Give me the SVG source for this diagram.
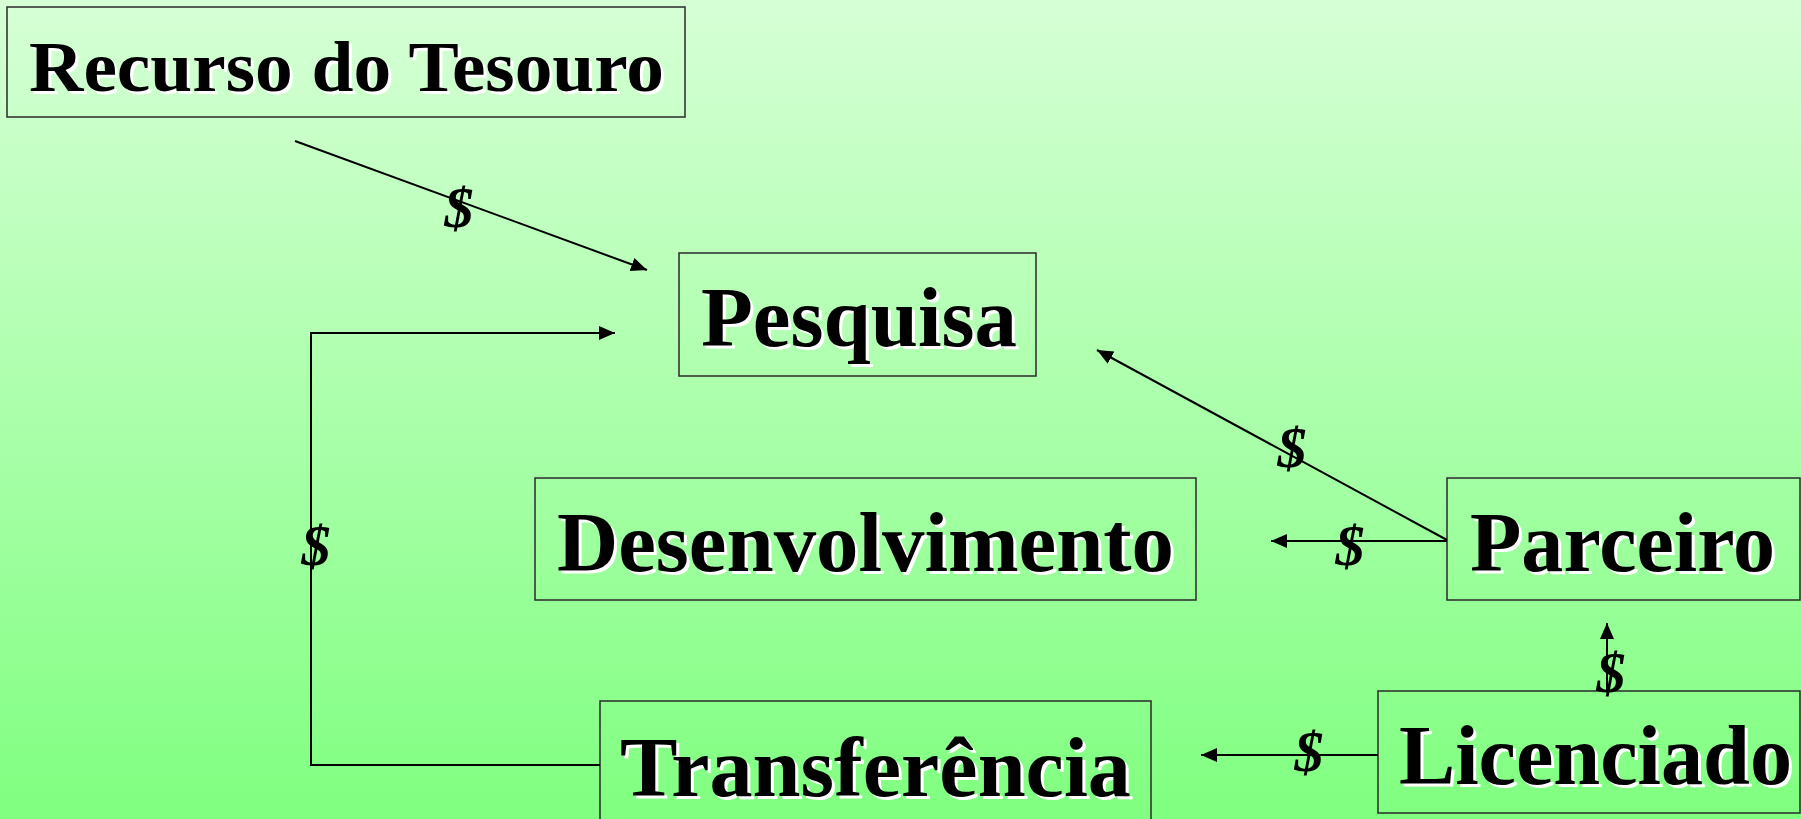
<svg xmlns="http://www.w3.org/2000/svg" xmlns:xlink="http://www.w3.org/1999/xlink" width="1801" height="819" viewBox="0 0 1801 819">
<style>
.box{fill:none;stroke:#2a2a2a;stroke-width:1.5}
.t{font-family:"Liberation Serif","Times New Roman",serif;font-weight:bold;font-size:84px}
.sh{fill:#ffffff}
.fg{fill:#000000}
.c{fill:none;stroke:#000;stroke-width:2}
.d{font-family:"Liberation Serif","Times New Roman",serif;font-weight:bold;font-style:italic;font-size:58px;text-anchor:middle;fill:#000}
</style>
<defs>
<linearGradient id="bg" x1="0" y1="0" x2="0" y2="1">
<stop offset="0" stop-color="#d6ffd6"/>
<stop offset="1" stop-color="#80ff80"/>
</linearGradient>
<marker id="ah" markerUnits="userSpaceOnUse" markerWidth="16" markerHeight="16" viewBox="0 0 16 14" refX="16" refY="7" orient="auto">
<path d="M0,0 L16,7 L0,14 z" fill="#000"/>
</marker>
</defs>
<rect x="0" y="0" width="1801" height="819" fill="url(#bg)"/>

<g id="recurso">
<rect class="box" x="7" y="7" width="678" height="110"/>
<text class="t sh" style="font-size:72px" x="32" y="94" textLength="635" lengthAdjust="spacingAndGlyphs">Recurso do Tesouro</text>
<text class="t fg" style="font-size:72px" x="29" y="91" textLength="635" lengthAdjust="spacingAndGlyphs">Recurso do Tesouro</text>
</g>
<g id="pesquisa">
<rect class="box" x="679" y="253" width="357" height="123"/>
<text class="t sh" x="704" y="349" textLength="316" lengthAdjust="spacingAndGlyphs">Pesquisa</text>
<text class="t fg" x="701" y="346" textLength="316" lengthAdjust="spacingAndGlyphs">Pesquisa</text>
</g>
<g id="desenvolvimento">
<rect class="box" x="535" y="478" width="661" height="122"/>
<text class="t sh" x="560" y="574" textLength="617" lengthAdjust="spacingAndGlyphs">Desenvolvimento</text>
<text class="t fg" x="557" y="571" textLength="617" lengthAdjust="spacingAndGlyphs">Desenvolvimento</text>
</g>
<g id="parceiro">
<rect class="box" x="1447" y="478" width="353" height="122"/>
<text class="t sh" x="1473" y="574" textLength="305" lengthAdjust="spacingAndGlyphs">Parceiro</text>
<text class="t fg" x="1470" y="571" textLength="305" lengthAdjust="spacingAndGlyphs">Parceiro</text>
</g>
<g id="licenciado">
<rect class="box" x="1378" y="691" width="422" height="122"/>
<text class="t sh" x="1402" y="787" textLength="393" lengthAdjust="spacingAndGlyphs">Licenciado</text>
<text class="t fg" x="1399" y="784" textLength="393" lengthAdjust="spacingAndGlyphs">Licenciado</text>
</g>
<g id="transferencia">
<rect class="box" x="600" y="701" width="551" height="130"/>
<text class="t sh" x="623" y="799" textLength="511" lengthAdjust="spacingAndGlyphs">Transferência</text>
<text class="t fg" x="620" y="796" textLength="511" lengthAdjust="spacingAndGlyphs">Transferência</text>
</g>

<g id="connectors">
<line class="c" x1="295" y1="141" x2="647" y2="270" marker-end="url(#ah)"/>
<path class="c" d="M600,765 H311 V333 H615" marker-end="url(#ah)"/>
<line class="c" x1="1447" y1="540" x2="1097" y2="350" marker-end="url(#ah)"/>
<line class="c" x1="1447" y1="541" x2="1271" y2="541" marker-end="url(#ah)"/>
<line class="c" x1="1607" y1="691" x2="1607" y2="623" marker-end="url(#ah)"/>
<line class="c" x1="1378" y1="755" x2="1201" y2="755" marker-end="url(#ah)"/>
<text class="d" x="459" y="227">$</text>
<text class="d" x="316" y="565">$</text>
<text class="d" x="1292" y="467">$</text>
<text class="d" x="1350" y="565">$</text>
<text class="d" x="1611" y="692">$</text>
<text class="d" x="1309" y="771">$</text>
</g>
</svg>
